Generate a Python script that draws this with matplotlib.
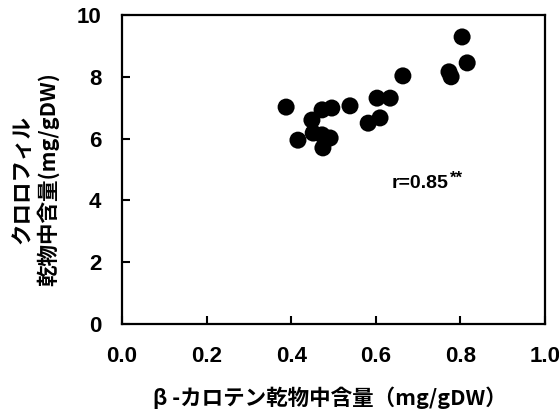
import matplotlib.pyplot as plt

# β-カロテン vs クロロフィル (mg/gDW)
carotene = [0.388, 0.496, 0.539, 0.473, 0.449, 0.416, 0.473, 0.492, 0.475, 0.452,
            0.603, 0.634, 0.582, 0.610, 0.664, 0.773, 0.778, 0.804, 0.816]
chlorophyll = [7.02, 6.99, 7.06, 6.93, 6.60, 5.95, 6.12, 6.02, 5.70, 6.18,
               7.31, 7.31, 6.50, 6.67, 8.03, 8.16, 8.00, 9.29, 8.45]
xticks = [0.0, 0.2, 0.4, 0.6, 0.8, 1.0]
yticks = [0, 2, 4, 6, 8, 10]

jp = ['Noto Sans CJK JP', 'DejaVu Sans']
num = 'Liberation Sans'

fig = plt.figure(figsize=(5.59, 4.17), dpi=100)
ax = fig.add_axes([0.2182, 0.223, 0.7568, 0.741])

ax.scatter(carotene, chlorophyll, s=150, color='black', edgecolors='none', zorder=3)

ax.set_xlim(0, 1.0)
ax.set_ylim(0, 10)
ax.set_xticks(xticks)
ax.set_xticklabels([f'{v:.1f}' for v in xticks])
ax.set_yticks(yticks)
ax.set_yticklabels([str(v) for v in yticks])
ax.tick_params(direction='in', length=6, width=1.5)
ax.tick_params(axis='x', pad=16)
ax.tick_params(axis='y', pad=15)
for lab in ax.get_xticklabels() + ax.get_yticklabels():
    lab.set_fontfamily(num)
    lab.set_fontweight('bold')
    lab.set_fontsize(16)
for s in ax.spines.values():
    s.set_linewidth(1.6)

# 相関係数
t = ax.text(0.638, 4.56, 'r=0.85', fontsize=14, fontweight='bold', family=num, va='center')
ax.annotate('**', xy=(1, 1), xycoords=t, xytext=(0.5, 3), textcoords='offset points',
            fontsize=12, fontweight='bold', family=num, va='top')

# 軸ラベル
fig.text(0.59, 0.045, 'β -カロテン乾物中含量（mg/gDW）', ha='center', va='center',
         fontsize=15.5, fontweight='bold', family=jp)
fig.text(0.04, 0.57, 'クロロフィル', rotation=90, ha='center', va='center',
         fontsize=15.5, fontweight='bold', family=jp)
fig.text(0.085, 0.57, '乾物中含量(mg/gDW)', rotation=90, ha='center', va='center',
         fontsize=15.5, fontweight='bold', family=jp)

plt.savefig('out.png', dpi=100)
plt.close()
